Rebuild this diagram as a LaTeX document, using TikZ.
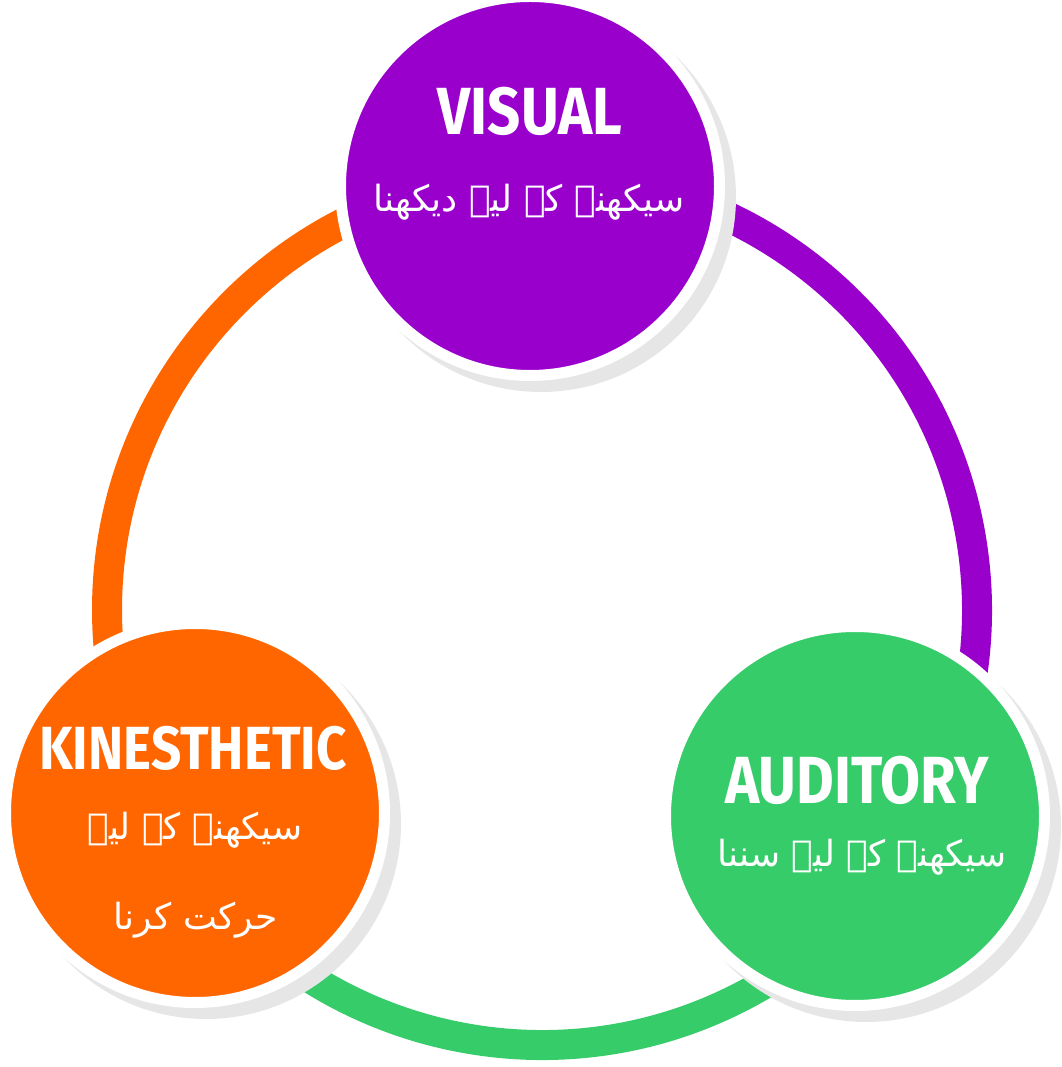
\documentclass[tikz,border=0pt]{standalone}
\usepackage{fontspec}
\usepackage{graphicx}
\setmainfont{Fira Sans}
\newfontfamily\engfont{Fira Sans}[UprightFont=* Bold, FakeStretch=0.87]
\newfontfamily\arabicfont[Script=Arabic]{DejaVu Sans}
\TeXXeTstate=1
\definecolor{cPurple}{RGB}{153,0,204}
\definecolor{cGreen}{RGB}{54,204,106}
\definecolor{cOrange}{RGB}{255,102,0}
\definecolor{cShadow}{RGB}{230,230,230}
\newcommand{\urdu}[1]{{\arabicfont\beginR #1\endR}}
\begin{document}
\begin{tikzpicture}[x=0.75pt,y=0.75pt,
  ringarc/.style={line width=22.5pt},
  bubble/.style={circle, inner sep=0pt, outer sep=0pt, minimum size=284.25pt,
    draw=white, line width=8.25pt},
  shadowdisc/.style={fill=cShadow},
  engtitle/.style={text=white, anchor=base, inner sep=0pt, font=\engfont\fontsize{50}{56}\selectfont},
  urdutext/.style={text=white, inner sep=0pt, font=\fontsize{27}{32}\selectfont}
]
\useasboundingbox (0,0) rectangle (1061,1067);
\coordinate (ring) at (542,457);
\coordinate (cV) at (530,881);
\coordinate (cK) at (195,254);
\coordinate (cA) at (855,251);
% ring
\draw[ringarc, cOrange] ([shift={(91.6:435)}]ring) arc[start angle=91.6, end angle=210.3, radius=435];
\draw[ringarc, cGreen] ([shift={(210.3:435)}]ring) arc[start angle=210.3, end angle=326.6, radius=435];
\draw[ringarc, cPurple] ([shift={(-33.4:435)}]ring) arc[start angle=-33.4, end angle=91.6, radius=435];
% shadows
\foreach \c in {cV,cK,cA}{
  \fill[shadowdisc] ([shift={(11,-11)}]\c) circle[radius=195];
}
% bubbles
\node[bubble, fill=cPurple] (visual) at (cV) {};
\node[bubble, fill=cOrange] (kin) at (cK) {};
\node[bubble, fill=cGreen] (aud) at (cA) {};
% texts
\node[engtitle] (tV) at (530,932) {VISUAL};
\node[engtitle, font=\engfont\fontsize{45.7}{50}\selectfont] (tK) at (193,297) {KINESTHETIC};
\node[engtitle] (tA) at (857,263) {AUDITORY};
\node[urdutext] (uV) at (529,865) {\urdu{سیکھنے کے لیے دیکھنا}};
\node[urdutext] (uA) at (862,210) {\urdu{سیکھنے کے لیے سننا}};
\node[urdutext] (uK1) at (195,237) {\urdu{سیکھنے کے لیے}};
\node[urdutext] (uK2) at (196,147) {\urdu{حرکت کرنا}};
\end{tikzpicture}
\end{document}
